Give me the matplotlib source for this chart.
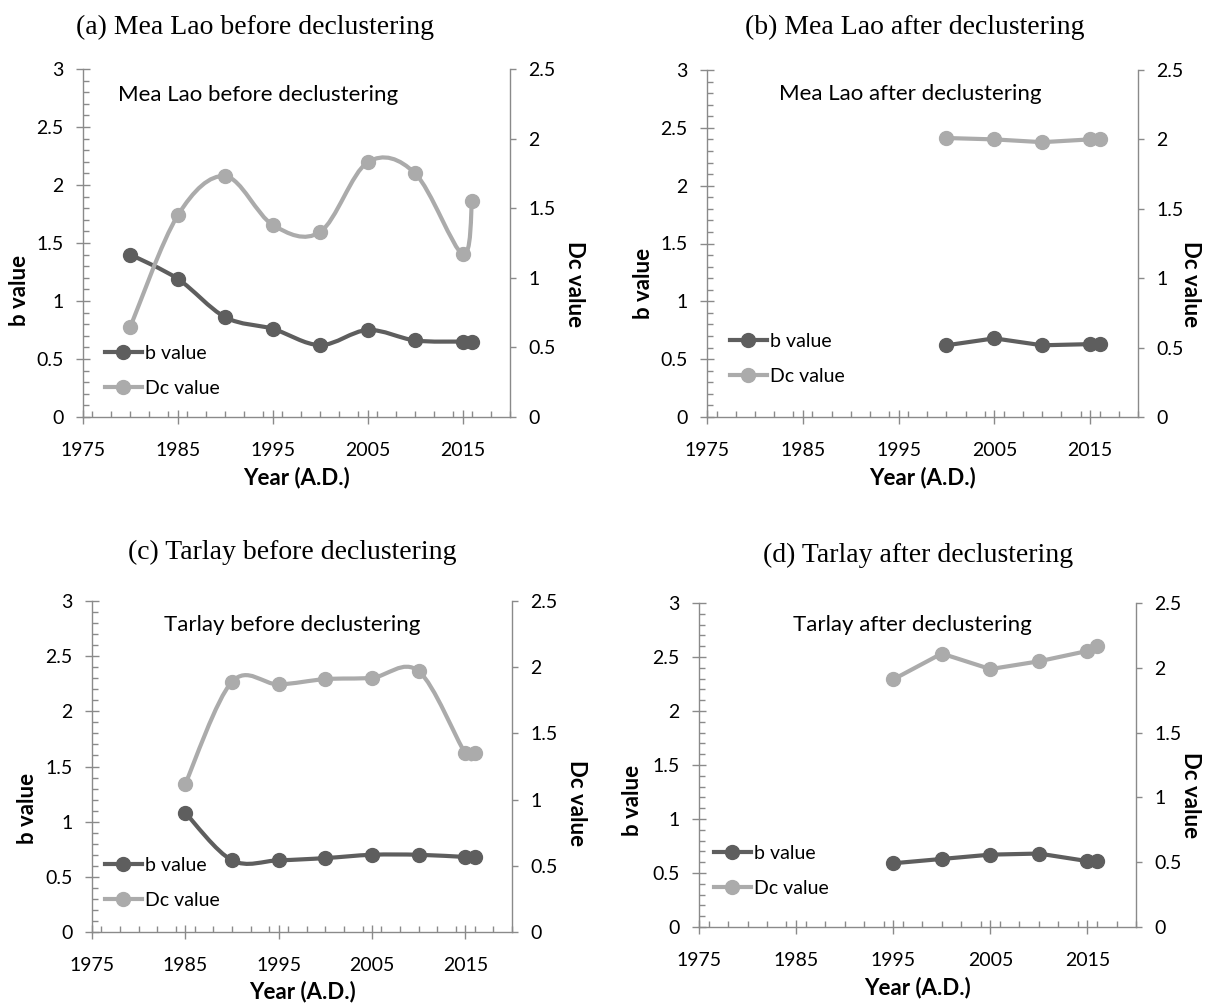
import numpy as np
import matplotlib
matplotlib.use("Agg")
from matplotlib import pyplot as plt
from matplotlib.path import Path
from matplotlib.patches import PathPatch
from matplotlib.lines import Line2D
from matplotlib.ticker import MultipleLocator

# ---- data ----
a_years = [1980, 1985, 1990, 1995, 2000, 2005, 2010, 2015, 2016]
a_b = [1.40, 1.19, 0.86, 0.76, 0.62, 0.75, 0.66, 0.65, 0.65]
a_dc = [0.65, 1.45, 1.73, 1.38, 1.33, 1.83, 1.75, 1.17, 1.55]

b_years = [2000, 2005, 2010, 2015, 2016]
b_b = [0.62, 0.68, 0.62, 0.63, 0.63]
b_dc = [2.01, 2.00, 1.98, 2.00, 2.00]

c_years = [1985, 1990, 1995, 2000, 2005, 2010, 2015, 2016]
c_b = [1.08, 0.65, 0.65, 0.67, 0.70, 0.70, 0.68, 0.68]
c_dc = [1.12, 1.89, 1.87, 1.91, 1.92, 1.97, 1.35, 1.35]

d_years = [1995, 2000, 2005, 2010, 2015, 2016]
d_b = [0.59, 0.63, 0.67, 0.68, 0.61, 0.61]
d_dc = [1.91, 2.11, 1.99, 2.05, 2.13, 2.17]

panel_titles = ["(a) Mea Lao before declustering", "(b) Mea Lao after declustering",
                "(c) Tarlay before declustering", "(d) Tarlay after declustering"]
inner_titles = ["Mea Lao before declustering", "Mea Lao after declustering",
                "Tarlay before declustering", "Tarlay after declustering"]

W, H = 1209, 1006
B_COL = '#5e5e5e'
DC_COL = '#ababab'
SPINE = '#8a8a8a'
SANS = 'Lato'
TICK_FS = 14

fig = plt.figure(figsize=(W / 100, H / 100), dpi=100)


def bezier_path(ax, x, y, xr, yr, smooth):
    # Excel-style smoothed line: cubic bezier through the points,
    # tangents computed in screen-like (pixel) proportions
    bb = ax.get_position()
    sx = bb.width * W / (xr[1] - xr[0])
    sy = bb.height * H / (yr[1] - yr[0])
    p = np.column_stack([np.asarray(x, float) * sx, np.asarray(y, float) * sy])
    verts = [p[0]]
    codes = [Path.MOVETO]
    for i in range(len(p) - 1):
        if not smooth:
            verts.append(p[i + 1])
            codes.append(Path.LINETO)
            continue
        p0 = p[i - 1] if i > 0 else p[i]
        p1, p2 = p[i], p[i + 1]
        p3 = p[i + 2] if i + 2 < len(p) else p[i + 1]
        verts += [p1 + (p2 - p0) / 6, p2 - (p3 - p1) / 6, p2]
        codes += [Path.CURVE4] * 3
    verts = np.array(verts) / [sx, sy]
    return Path(verts, codes)


def panel(px, years, bvals, dcvals, ptitle, ititle, smooth, title_xy, ititle_xy,
          blab_x, dclab_x, lab_y, dclab_y, year_y, leg_xy):
    l, r, t, b = px
    ax = fig.add_axes([l / W, 1 - b / H, (r - l) / W, (b - t) / H])
    ax2 = ax.twinx()
    ax.set_xlim(1975, 2020)
    ax.set_ylim(0, 3)
    ax2.set_ylim(0, 2.5)

    ax.add_patch(PathPatch(bezier_path(ax, years, bvals, (1975, 2020), (0, 3), smooth),
                           fill=False, edgecolor=B_COL, lw=3, capstyle='round',
                           joinstyle='round', zorder=2))
    ax.plot(years, bvals, ls='none', marker='o', ms=10, color=B_COL, zorder=3)
    ax2.add_patch(PathPatch(bezier_path(ax2, years, dcvals, (1975, 2020), (0, 2.5), smooth),
                            fill=False, edgecolor=DC_COL, lw=3, capstyle='round',
                            joinstyle='round', zorder=2))
    ax2.plot(years, dcvals, ls='none', marker='o', ms=10, color=DC_COL, zorder=3)

    for a in (ax, ax2):
        for s in a.spines.values():
            s.set_color(SPINE)
            s.set_linewidth(1)
        a.spines['top'].set_visible(False)
    ax.spines['right'].set_visible(False)
    ax2.spines['left'].set_visible(False)
    ax2.spines['bottom'].set_visible(False)

    ax.xaxis.set_minor_locator(MultipleLocator(2))
    ax.yaxis.set_minor_locator(MultipleLocator(0.1))
    ax.set_xticks(np.arange(1975, 2016, 10))
    ax.set_yticks(np.arange(0, 3.01, 0.5))
    ax.set_yticklabels(['0', '0.5', '1', '1.5', '2', '2.5', '3'])
    ax2.set_yticks(np.arange(0, 2.51, 0.5))
    ax2.set_yticklabels(['0', '0.5', '1', '1.5', '2', '2.5'])

    ax.tick_params(which='major', direction='inout', length=10, width=1, color=SPINE,
                   labelsize=TICK_FS)
    ax.tick_params(axis='y', which='major', pad=9)
    ax.tick_params(axis='x', which='major', pad=13)
    ax.tick_params(which='minor', direction='in', length=4, width=1, color=SPINE)
    ax2.tick_params(axis='y', which='major', direction='out', length=4, width=1,
                    color=SPINE, labelsize=TICK_FS, pad=9)
    for lab in ax.get_xticklabels() + ax.get_yticklabels() + ax2.get_yticklabels():
        lab.set_fontfamily(SANS)

    # texts
    fig.text(title_xy[0] / W, 1 - title_xy[1] / H, ptitle, ha='center', va='center',
             fontsize=20, family='Liberation Serif')
    fig.text(ititle_xy[0] / W, 1 - ititle_xy[1] / H, ititle, ha='center', va='center',
             fontsize=16, family=SANS)
    fig.text(blab_x / W, 1 - lab_y / H, 'b value', rotation=90, ha='center', va='center',
             fontsize=16, fontweight='bold', family=SANS)
    fig.text(dclab_x / W, 1 - dclab_y / H, 'Dc value', rotation=270, ha='center',
             va='center', fontsize=16, fontweight='bold', family=SANS)
    fig.text((l + r) / 2 / W, 1 - year_y / H, 'Year (A.D.)', ha='center', va='center',
             fontsize=16, fontweight='bold', family=SANS)

    handles = [Line2D([], [], color=B_COL, lw=3, marker='o', ms=10),
               Line2D([], [], color=DC_COL, lw=3, marker='o', ms=10)]
    ax2.legend(handles, ['b value', 'Dc value'], loc='center left',
               bbox_to_anchor=(leg_xy[0] / W, 1 - leg_xy[1] / H),
               bbox_transform=fig.transFigure, frameon=False, borderpad=0,
               borderaxespad=0, handlelength=1.9, handletextpad=0.15,
               labelspacing=0.95, prop={'family': SANS, 'size': 14})
    return ax, ax2


panel((83, 510, 69, 417), a_years, a_b, a_dc, panel_titles[0], inner_titles[0], True,
      (255, 27), (258, 95), 20, 574, 290, 284, 478, (105, 371))
panel((707, 1138, 70, 417), b_years, b_b, b_dc, panel_titles[1], inner_titles[1], False,
      (915, 27), (910, 94), 643, 1191, 283, 284, 478, (730, 359))
panel((92, 512, 601, 932), c_years, c_b, c_dc, panel_titles[2], inner_titles[2], True,
      (292, 552), (292, 625), 27, 576, 808, 803, 992, (105, 883))
panel((699, 1136, 603, 927), d_years, d_b, d_dc, panel_titles[3], inner_titles[3], False,
      (918, 555), (912, 625), 633, 1191, 800, 795, 988, (714, 871))

fig.savefig('out.png', dpi=100)
